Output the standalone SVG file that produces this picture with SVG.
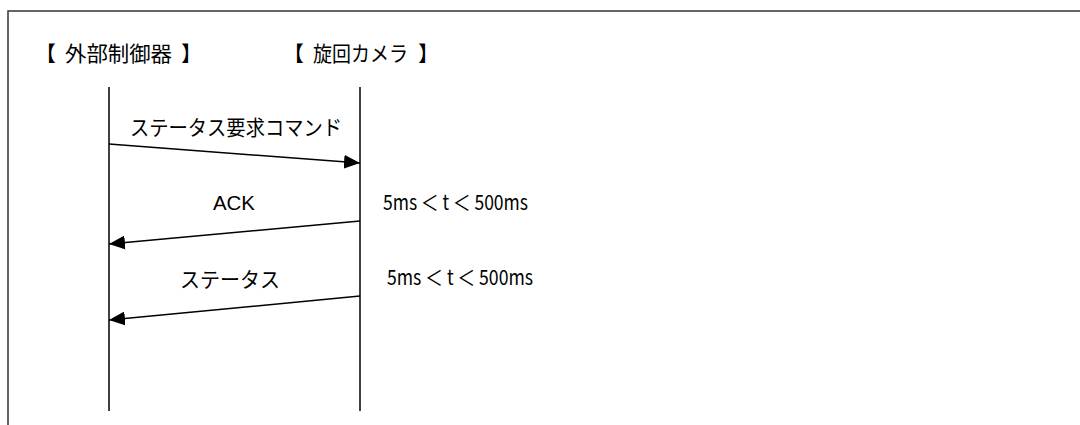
<svg xmlns="http://www.w3.org/2000/svg" width="1080" height="425" viewBox="0 0 1080 425">
<style>
.t{font-family:"Noto Sans CJK JP","Liberation Sans",sans-serif;font-size:21px;fill:#000}
.a{font-family:"Liberation Sans","Noto Sans CJK JP",sans-serif;font-size:20px;fill:#000}
.life{stroke:#000;stroke-width:1.5;fill:none}
.msg{stroke:#000;stroke-width:1.5;fill:none;marker-end:url(#ah)}
</style>
<defs>
<marker id="ah" markerUnits="userSpaceOnUse" markerWidth="17" markerHeight="14" refX="16" refY="7" orient="auto">
<path d="M0,0 L16,7 L0,14 Z" fill="#000"/>
</marker>
</defs>
<rect x="8" y="11" width="1200" height="500" fill="#fff" stroke="#333" stroke-width="1.5"/>
<g id="ext-controller">
<text class="t" y="61"><tspan x="35">【</tspan><tspan x="65" textLength="107" lengthAdjust="spacingAndGlyphs">外部制御器</tspan><tspan x="181">】</tspan></text>
<line class="life" x1="109" y1="87" x2="109" y2="411"/>
</g>
<g id="camera">
<text class="t" y="61"><tspan x="283">【</tspan><tspan x="313" textLength="95" lengthAdjust="spacingAndGlyphs">旋回カメラ</tspan><tspan x="418">】</tspan></text>
<line class="life" x1="360" y1="87" x2="360" y2="411"/>
</g>
<g id="connectors">
<line class="msg" x1="109" y1="144" x2="360" y2="163"/>
<line class="msg" x1="360" y1="221" x2="109" y2="244"/>
<line class="msg" x1="360" y1="296" x2="109" y2="320"/>
</g>
<g id="labels">
<text class="t" x="130" y="135" textLength="212" lengthAdjust="spacingAndGlyphs">ステータス要求コマンド</text>
<text class="a" x="213" y="210" textLength="42" lengthAdjust="spacingAndGlyphs">ACK</text>
<text class="t" x="180" y="287" textLength="100" lengthAdjust="spacingAndGlyphs">ステータス</text>
<text class="t" x="383" y="210" textLength="145" lengthAdjust="spacingAndGlyphs">5ms ＜ t ＜ 500ms</text>
<text class="t" x="387" y="285" textLength="146" lengthAdjust="spacingAndGlyphs">5ms ＜ t ＜ 500ms</text>
</g>
</svg>
